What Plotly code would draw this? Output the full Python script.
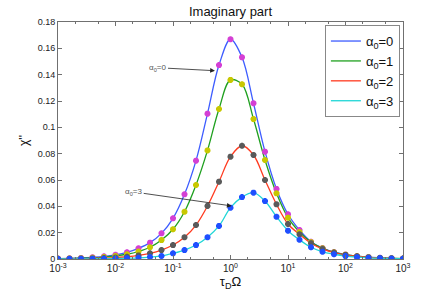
import plotly.graph_objects as go

# frequency grid (tau_D * Omega), markers every 0.2 decades
log_omega = [-3.0 + 0.2 * k for k in range(31)]
omega = [10 ** v for v in log_omega]

chi_a0 = [0.0003, 0.0005, 0.0008, 0.0013, 0.0020, 0.0032, 0.0051, 0.0081, 0.0124, 0.0195,
          0.0309, 0.0491, 0.0747, 0.1104, 0.1473, 0.1669, 0.1532, 0.1183, 0.0815, 0.0532,
          0.0340, 0.0220, 0.0131, 0.0082, 0.0052, 0.0034, 0.0022, 0.0014, 0.0009, 0.0005, 0.0003]
chi_a1 = [0.00023, 0.00036, 0.00057, 0.0009, 0.00145, 0.0023, 0.0036, 0.0057, 0.0089, 0.0144,
          0.0226, 0.0359, 0.0562, 0.0825, 0.1139, 0.1360, 0.1327, 0.1063, 0.0752, 0.0499,
          0.0314, 0.0205, 0.0128, 0.0081, 0.0051, 0.0033, 0.0021, 0.0013, 0.0008, 0.0005, 0.0003]
chi_a2 = [0.00011, 0.00017, 0.00027, 0.00043, 0.0007, 0.0011, 0.0017, 0.0027, 0.0043, 0.0068,
          0.0106, 0.0165, 0.0258, 0.0403, 0.0587, 0.0777, 0.0860, 0.0790, 0.0600, 0.0415,
          0.0266, 0.0188, 0.0120, 0.0077, 0.0049, 0.0031, 0.0020, 0.0012, 0.0008, 0.0005, 0.0003]
chi_a3 = [0.00004, 0.00006, 0.0001, 0.00016, 0.00025, 0.0004, 0.0006, 0.0009, 0.0015, 0.0023,
          0.0043, 0.0068, 0.0106, 0.0165, 0.0251, 0.0390, 0.0470, 0.0504, 0.0440, 0.0321,
          0.0215, 0.0146, 0.0089, 0.0055, 0.0036, 0.0022, 0.0014, 0.0009, 0.0006, 0.0004, 0.0002]

series_names = ["α<sub>0</sub>=0", "α<sub>0</sub>=1", "α<sub>0</sub>=2", "α<sub>0</sub>=3"]
line_colors = ["#3d5cff", "#1fa01f", "#ff3a1f", "#1fd6d6"]
marker_colors = ["#d43fd4", "#c8c800", "#5a5a5a", "#1f4fff"]

x_tickvals = [1e-3, 1e-2, 1e-1, 1e0, 1e1, 1e2, 1e3]
x_ticktext = ["10<sup>-3</sup>", "10<sup>-2</sup>", "10<sup>-1</sup>", "10<sup>0</sup>",
              "10<sup>1</sup>", "10<sup>2</sup>", "10<sup>3</sup>"]
y_tickvals = [0, 0.02, 0.04, 0.06, 0.08, 0.1, 0.12, 0.14, 0.16, 0.18]
y_ticktext = ["0", "0.02", "0.04", "0.06", "0.08", "0.1", "0.12", "0.14", "0.16", "0.18"]

fig = go.Figure()
all_series = [chi_a0, chi_a1, chi_a2, chi_a3]
for vals, name, lc in zip(all_series, series_names, line_colors):
    fig.add_trace(go.Scatter(x=omega, y=vals, mode="lines", name=name,
                             line=dict(color=lc, width=1.3, shape="spline", smoothing=1.0)))
for vals, mc in zip(all_series, marker_colors):
    fig.add_trace(go.Scatter(x=omega, y=vals, mode="markers", showlegend=False,
                             marker=dict(symbol="asterisk", size=5, color=mc,
                                         line=dict(color=mc, width=2))))

axis_col = "#707070"
fig.update_layout(
    width=446, height=292,
    margin=dict(l=58, r=43, t=22, b=33, autoexpand=False),
    paper_bgcolor="white", plot_bgcolor="white",
    font=dict(family="Liberation Sans, Arial, sans-serif", size=9, color="#222"),
    title=dict(text="Imaginary part", x=230.5 / 446, xanchor="center",
               y=1 - 11 / 292, yanchor="middle", yref="container", automargin=False,
               font=dict(size=13, color="#111")),
    showlegend=True,
    legend=dict(x=0.991, xanchor="right", y=0.987, yanchor="top",
                xref="paper", yref="paper",
                bgcolor="white", bordercolor="#888", borderwidth=1,
                font=dict(size=13, color="#111"), tracegroupgap=0,
                itemwidth=30),
    xaxis=dict(type="log", range=[-3, 3], tickvals=x_tickvals, ticktext=x_ticktext,
               automargin=False,
               ticks="inside", ticklen=4, tickcolor=axis_col, showgrid=False, zeroline=False,
               showline=True, linecolor=axis_col, linewidth=1, mirror="allticks",
               minor=dict(ticks="inside", ticklen=2, tickcolor=axis_col, showgrid=False),
               title=dict(text="τ<sub>D</sub>Ω", font=dict(size=13, color="#111"), standoff=0),
               tickfont=dict(size=10, color="#222")),
    yaxis=dict(range=[0, 0.18], tickvals=y_tickvals, ticktext=y_ticktext,
               automargin=False,
               ticks="inside", ticklen=4, tickcolor=axis_col, showgrid=False, zeroline=False,
               showline=True, linecolor=axis_col, linewidth=1, mirror="allticks",
               title=dict(text="χ''", font=dict(size=12, color="#111"), standoff=6),
               tickfont=dict(size=9, color="#222")),
)

fig.add_annotation(x=-0.27, y=0.143, xref="x", yref="y", ax=-57, ay=-3,
                   text="α<sub>0</sub>=0", showarrow=True, arrowhead=2, arrowsize=1.2,
                   arrowwidth=0.8, arrowcolor="#222", font=dict(size=8, color="#555"))
fig.add_annotation(x=0.021, y=0.0403, xref="x", yref="y", ax=-98, ay=-14,
                   text="α<sub>0</sub>=3", showarrow=True, arrowhead=2, arrowsize=1.2,
                   arrowwidth=0.8, arrowcolor="#222", font=dict(size=8, color="#555"))

fig.write_html("out.html", config={"displayModeBar": False},
               post_script="document.body.style.margin='0';")
